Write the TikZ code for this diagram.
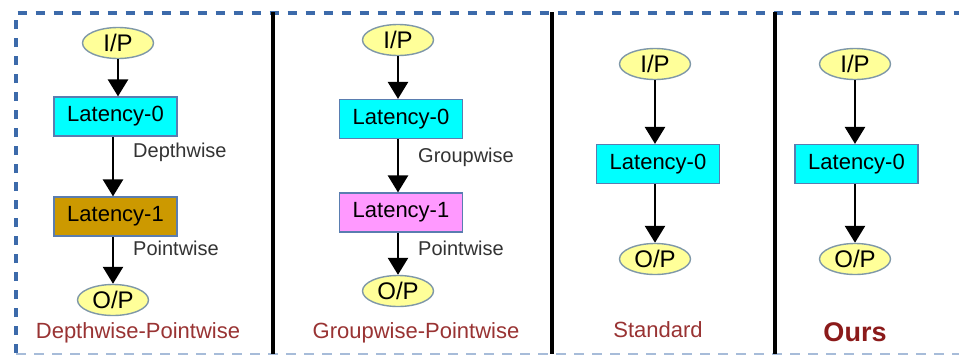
\documentclass[tikz,border=0pt]{standalone}
\usepackage{fontspec}
\setmainfont{Liberation Sans}
\usetikzlibrary{arrows.meta,shapes.geometric}
\definecolor{frameblue}{HTML}{3C6AAA}
\definecolor{ioyellow}{HTML}{FFFF99}
\definecolor{ioedge}{HTML}{7F98A8}
\definecolor{boxedge}{HTML}{5A7DB0}
\definecolor{lcyan}{HTML}{00FFFF}
\definecolor{lgold}{HTML}{CC9900}
\definecolor{lpink}{HTML}{FF99FF}
\definecolor{capred}{HTML}{993333}
\definecolor{oursred}{HTML}{8B1A1A}
\definecolor{lblgray}{HTML}{333333}
\tikzset{
  iop/.style={ellipse, draw=ioedge, line width=1.4pt, fill=ioyellow,
    minimum width=71pt, minimum height=31pt, inner sep=0pt,
    font=\fontsize{24}{26}\selectfont},
  latbox/.style={rectangle, draw=boxedge, line width=1.2pt,
    minimum width=123pt, minimum height=39pt, inner sep=0pt,
    font=\fontsize{22}{24}\selectfont},
  oplabel/.style={anchor=west, inner sep=0pt, text=lblgray,
    font=\fontsize{20}{22}\selectfont},
  caption/.style={inner sep=0pt, text=capred, font=\fontsize{22}{24}\selectfont},
  arr/.style={draw=black, line width=2.6pt, -{Triangle[width=20pt,length=17pt]}},
  divider/.style={line width=3.2pt, black},
}
\begin{document}
\begin{tikzpicture}[x=1pt,y=-1pt]
\useasboundingbox (0,0) rectangle (959,354);
\fill[white] (0,0) rectangle (959,354);

% outer dashed frame (runs past the right edge)
\draw[frameblue, line width=4pt, dash pattern=on 9.5pt off 8.5pt]
  (16,353) -- (16,12.5) -- (975,12.5);
\draw[frameblue!45, line width=3pt, dash pattern=on 9.5pt off 8.5pt]
  (16,354.5) -- (975,354.5);

% panel dividers
\draw[divider] (273,12) -- (273,354);
\draw[divider] (552,12) -- (552,354);
\draw[divider] (775,12) -- (775,354);

% Depthwise-Pointwise
\node[iop] (ip1) at (118,43) {I/P};
\node[latbox, fill=lcyan] (la1) at (115.5,116.5) {Latency-0};
\node[latbox, fill=lgold] (lb1) at (115.5,216.5) {Latency-1};
\node[iop] (op1) at (113,300) {O/P};
\draw[arr] (ip1.south) -- (ip1.south |- la1.north);
\draw[arr] (la1.south -| op1) -- (lb1.north -| op1);
\draw[arr] (lb1.south -| op1) -- (op1.north);
\node[oplabel] (t1a) at (133,152) {Depthwise};
\node[oplabel] (t1b) at (133,248) {Pointwise};
\node[caption] (c1) at (138,333) {Depthwise-Pointwise};

% Groupwise-Pointwise
\node[iop] (ip2) at (398,40) {I/P};
\node[latbox, fill=lcyan] (la2) at (401,119) {Latency-0};
\node[latbox, fill=lpink] (lb2) at (401,212.5) {Latency-1};
\node[iop] (op2) at (398,291) {O/P};
\draw[arr] (ip2.south) -- (ip2.south |- la2.north);
\draw[arr] (la2.south -| op2) -- (lb2.north -| op2);
\draw[arr] (lb2.south -| op2) -- (op2.north);
\node[oplabel] (t2a) at (418,157) {Groupwise};
\node[oplabel] (t2b) at (418,248) {Pointwise};
\node[caption] (c2) at (416,333) {Groupwise-Pointwise};

% Standard
\node[iop] (ip3) at (655,64) {I/P};
\node[latbox, fill=lcyan] (la3) at (658,164) {Latency-0};
\node[iop] (op3) at (655,259) {O/P};
\draw[arr] (ip3.south) -- (ip3.south |- la3.north);
\draw[arr] (la3.south -| op3) -- (op3.north);
\node[caption] (c3) at (658,330) {Standard};

% Ours
\node[iop] (ip4) at (855,64) {I/P};
\node[latbox, fill=lcyan] (la4) at (856.5,164) {Latency-0};
\node[iop] (op4) at (855,259) {O/P};
\draw[arr] (ip4.south) -- (ip4.south |- la4.north);
\draw[arr] (la4.south -| op4) -- (op4.north);
\node[caption, text=oursred, font=\fontsize{27}{29}\selectfont\bfseries] (c4) at (855,332) {Ours};
\end{tikzpicture}
\end{document}
